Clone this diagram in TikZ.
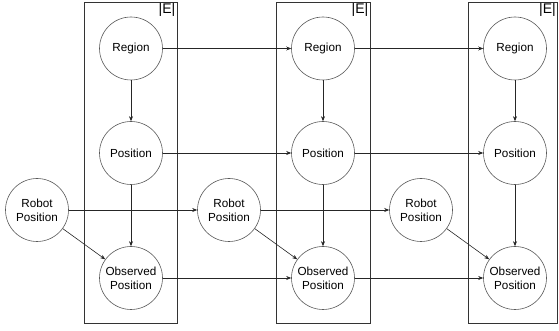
\documentclass[tikz,border=0pt]{standalone}
\usepackage{fontspec}
\setmainfont{Liberation Sans}
\usetikzlibrary{arrows.meta}
\begin{document}
\begin{tikzpicture}[x=1pt,y=1pt,
  var/.style={circle,draw=black!65,line width=0.6pt,minimum size=63pt,inner sep=0pt,align=center,
    font=\fontsize{11.7}{14}\selectfont},
  plate/.style={draw=black!80,line width=0.7pt},
  edge/.style={draw=black!85,line width=0.6pt,-{Stealth[length=5pt,width=4pt]}},
  platelabel/.style={anchor=north east,inner sep=0pt,font=\fontsize{14}{16}\selectfont}]
\useasboundingbox (0,0) rectangle (559,331);
% plates
\foreach \i/\xa/\xb in {1/84/177,2/276/370,3/468/557.5}{
  \draw[plate] (\xa,8) rectangle (\xb,329);
  \node[platelabel] (E\i) at (\xb-1.5,328) {|E|};
}
% nodes
\foreach \i/\x/\rx in {1/131/37,2/323/229,3/515/421}{
  \node[var] (reg\i) at (\x,282.5) {Region};
  \node[var] (pos\i) at (\x,178) {Position};
  \node[var] (rob\i) at (\rx,121) {Robot\\Position};
  \node[var] (obs\i) at (\x,53) {Observed\\Position};
}
% edges
\foreach \i in {1,2,3}{
  \draw[edge] (reg\i) -- (pos\i);
  \draw[edge] (pos\i) -- (obs\i);
  \draw[edge] (rob\i) -- (obs\i);
}
\foreach \i/\j in {1/2,2/3}{
  \draw[edge] (reg\i) -- (reg\j);
  \draw[edge] (pos\i) -- (pos\j);
  \draw[edge] (rob\i) -- (rob\j);
  \draw[edge] (obs\i) -- (obs\j);
}
\end{tikzpicture}
\end{document}
